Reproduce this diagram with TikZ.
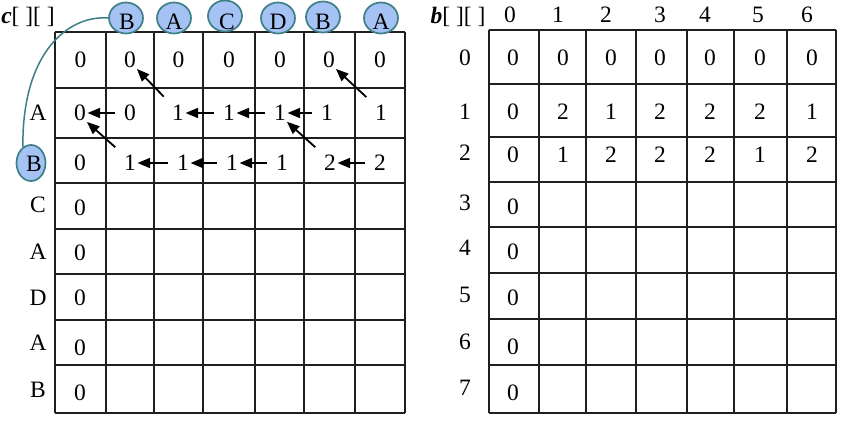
\documentclass[tikz,border=0pt]{standalone}
\usepackage{fontspec}
\setmainfont{Liberation Serif}
\usetikzlibrary{shapes.geometric,arrows.meta}
\definecolor{blobfill}{HTML}{A4C2F4}
\definecolor{blobline}{HTML}{3E7F86}
\begin{document}
\begin{tikzpicture}[x=1pt,y=-1pt,
  every node/.style={font=\fontsize{23.5}{28}\selectfont, inner sep=0.5pt},
  gridline/.style={line width=1.7pt, black!88},
  blob/.style={ellipse, draw=blobline, fill=blobfill, line width=1.7pt, minimum width=34pt, minimum height=31pt},
  sideblob/.style={blob, minimum width=29pt, minimum height=36pt},
  hback/.style={line width=1.8pt, -{Triangle[length=12.5pt,width=10pt]}, shorten <=8.5pt, shorten >=1pt},
  dback/.style={line width=1.8pt, -{Triangle[length=12.5pt,width=10pt]}, shorten <=11pt, shorten >=0.5pt},
  link/.style={draw=blobline, line width=1.5pt}]
\useasboundingbox (0,0) rectangle (855,433);
\fill[white] (0,0) rectangle (855,433);

% ---------- left grid c[][] ----------
\foreach \x in {55,106,154,203,255,304,355,405} \draw[gridline] (\x,32) -- (\x,413);
\foreach \y in {32,88,138,183,229,274,320,365,413} \draw[gridline] (55,\y) -- (405,\y);

\node (chead) at (28,17) {\textbf{\textit{c}}[ ][ ]};

% column blobs
\node[blob] (t1) at (126,18) {};
\node[blob] (t2) at (174,18) {};
\node[blob] (t3) at (225,16) {};
\node[blob] (t4) at (278,18) {};
\node[blob] (t5) at (323,17) {};
\node[blob] (t6) at (381,18) {};
\node (tl1) at (127,22) {B};
\node (tl2) at (174,22) {A};
\node (tl3) at (227,22) {C};
\node (tl4) at (278,22) {D};
\node (tl5) at (323,22) {B};
\node (tl6) at (381,22) {A};

% row labels
\node (rA1) at (38,113) {A};
\node[sideblob] (sB) at (31,163) {};
\node (sBl) at (34,164) {B};
\node (rC) at (38,205) {C};
\node (rA2) at (38,252) {A};
\node (rD) at (38,298) {D};
\node (rA3) at (38,343) {A};
\node (rB3) at (38,390) {B};

\draw[link] (t1.west) .. controls (70,15) and (22,50) .. (sB.117);

% values row 0
\node (c00) at (80.5,60) {0};
\node (c01) at (130,60) {0};
\node (c02) at (178.5,60) {0};
\node (c03) at (229,60) {0};
\node (c04) at (280,60) {0};
\node (c05) at (329,60) {0};
\node (c06) at (380,60) {0};
% row 1
\node (c10) at (80,113) {0};
\node (c11) at (130,113) {0};
\node (c12) at (178,113) {1};
\node (c13) at (229,113) {1};
\node (c14) at (280,113) {1};
\node (c15) at (327,113) {1};
\node (c16) at (381,113) {1};
% row 2
\node (c20) at (80,163) {0};
\node (c21) at (130,163) {1};
\node (c22) at (183,163) {1};
\node (c23) at (232,163) {1};
\node (c24) at (282,163) {1};
\node (c25) at (330,163) {2};
\node (c26) at (380,163) {2};
% lower rows
\node (c30) at (80,208) {0};
\node (c40) at (80,253) {0};
\node (c50) at (80,298) {0};
\node (c60) at (80,348) {0};
\node (c70) at (80,393) {0};

% trace-back arrows
\draw[hback] (c11.west) -- (c10.east);
\draw[hback] (c13.west) -- (c12.east);
\draw[hback] (c14.west) -- (c13.east);
\draw[hback] (c15.west) -- (c14.east);
\draw[dback] (c12.north west) -- (c01.south east);
\draw[dback] (c16.north west) -- (c05.south east);
\draw[hback] (c22.west) -- (c21.east);
\draw[hback] (c23.west) -- (c22.east);
\draw[hback] (c24.west) -- (c23.east);
\draw[hback] (c26.west) -- (c25.east);
\draw[dback] (c21.north west) -- (c10.south east);
\draw[dback] (c25.north west) -- (c14.south east);

% ---------- right grid b[][] ----------
\foreach \x in {489,539,586,636,687,734,787,836} \draw[gridline] (\x,30) -- (\x,413);
\foreach \y in {30,84,137,182,227,273,319,365,413} \draw[gridline] (489,\y) -- (836,\y);

\node (bhead) at (458,17) {\textbf{\textit{b}}[ ][ ]};
\node (bc0) at (510,15) {0};
\node (bc1) at (558,15) {1};
\node (bc2) at (606,15) {2};
\node (bc3) at (660,15) {3};
\node (bc4) at (705,15) {4};
\node (bc5) at (758,15) {5};
\node (bc6) at (807,15) {6};

\node (br0) at (465,58) {0};
\node (br1) at (465,112) {1};
\node (br2) at (465,153) {2};
\node (br3) at (465,203) {3};
\node (br4) at (465,248) {4};
\node (br5) at (465,295) {5};
\node (br6) at (465,342) {6};
\node (br7) at (465,388) {7};

\node (b00) at (513,58) {0};
\node (b01) at (563,58) {0};
\node (b02) at (611,58) {0};
\node (b03) at (660,58) {0};
\node (b04) at (710,58) {0};
\node (b05) at (760,58) {0};
\node (b06) at (812,58) {0};

\node (b10) at (513,112) {0};
\node (b11) at (563,112) {2};
\node (b12) at (611,112) {1};
\node (b13) at (660,112) {2};
\node (b14) at (710,112) {2};
\node (b15) at (760,112) {2};
\node (b16) at (812,112) {1};

\node (b20) at (513,155) {0};
\node (b21) at (563,155) {1};
\node (b22) at (611,155) {2};
\node (b23) at (660,155) {2};
\node (b24) at (710,155) {2};
\node (b25) at (760,155) {1};
\node (b26) at (812,155) {2};

\node (b30) at (513,207) {0};
\node (b40) at (513,252) {0};
\node (b50) at (513,298) {0};
\node (b60) at (513,347) {0};
\node (b70) at (513,393) {0};
\end{tikzpicture}
\end{document}
